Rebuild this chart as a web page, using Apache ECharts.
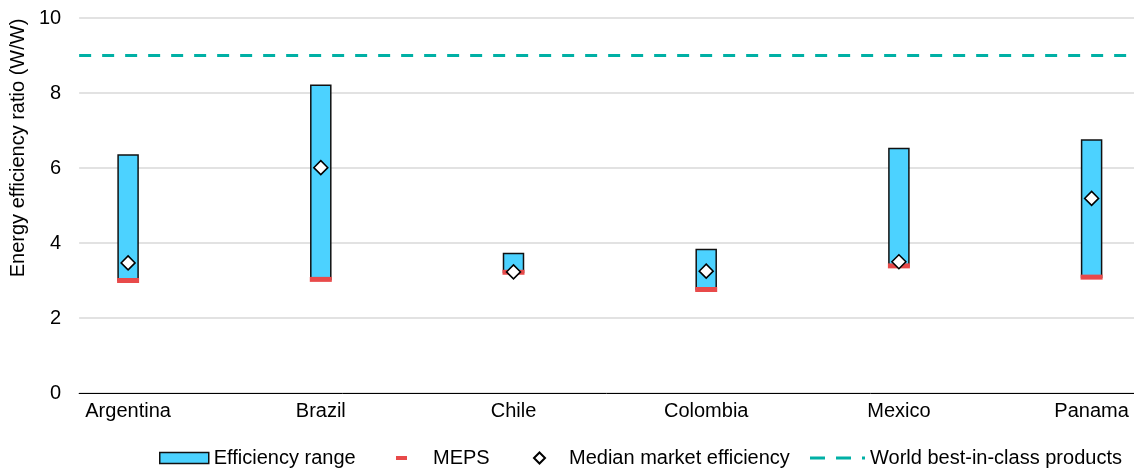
<!DOCTYPE html>
<html><head><meta charset="utf-8">
<script src="https://cdn.jsdelivr.net/npm/echarts@6/dist/echarts.min.js"></script>
<style>html,body{margin:0;padding:0;background:#fff}#c{width:1134px;height:469px}</style>
</head><body><div id="c"></div>
<script>
const categories = ['Argentina', 'Brazil', 'Chile', 'Colombia', 'Mexico', 'Panama'];
const mepsValues = [3.00, 3.03, 3.22, 2.76, 3.39, 3.09];
const rangeTop = [6.35, 8.21, 3.72, 3.83, 6.52, 6.75];
const medianValues = [3.47, 6.01, 3.23, 3.25, 3.50, 5.19];
const bestInClass = 9;
const yTickLabels = ['0', '2', '4', '6', '8', '10'];

const FONT = "'Liberation Sans', Arial, sans-serif";
const CYAN = '#4CD2FF';
const RED = '#E84A4A';
const TEAL = '#00B0A5';
const txt = { fontFamily: FONT, fontSize: 20, color: '#000' };

const idx = categories.map((c, i) => i);
const rangeData = idx.map(i => [i, mepsValues[i], rangeTop[i]]);
const mepsData = idx.map(i => [i, mepsValues[i]]);
const medianData = idx.map(i => [i, medianValues[i]]);

const chart = echarts.init(document.getElementById('c'), null, { renderer: 'canvas' });
chart.setOption({
  animation: false,
  backgroundColor: '#fff',
  grid: { left: 78, right: 0, top: 18, bottom: 76, containLabel: false },
  xAxis: {
    type: 'value', min: -0.254, max: 5.22,
    splitLine: { show: false },
    axisLine: { show: true, onZero: false, lineStyle: { color: '#000', width: 1 } },
    axisTick: { show: false },
    axisLabel: Object.assign({}, txt, {
      customValues: idx, margin: 8,
      formatter: v => categories[Math.round(v)] || ''
    })
  },
  yAxis: {
    type: 'value', min: 0, max: 10, interval: 2,
    name: 'Energy efficiency ratio (W/W)',
    nameLocation: 'middle', nameGap: 48,
    nameTextStyle: Object.assign({}, txt, { padding: [0, 0, 0, 115] }),
    axisLine: { show: false },
    axisTick: { show: false },
    axisLabel: Object.assign({}, txt, { margin: 18, formatter: v => yTickLabels[Math.round(v / 2)] }),
    splitLine: { lineStyle: { color: '#D9D9D9', width: 1.5 } }
  },
  legend: [
    { data: [{ name: 'Efficiency range', icon: 'rect' }], left: 159, top: 448, padding: 0,
      itemWidth: 49, itemHeight: 11, itemStyle: { borderColor: '#111', borderWidth: 1.5 },
      textStyle: Object.assign({}, txt) },
    { data: [{ name: 'MEPS', icon: 'rect' }], left: 396, top: 448, padding: 0,
      itemWidth: 11, itemHeight: 4, textStyle: Object.assign({}, txt, { padding: [0, 0, 0, 21] }) },
    { data: [{ name: 'Median market efficiency', icon: 'diamond' }], left: 533, top: 448, padding: 0,
      itemWidth: 11, itemHeight: 11, textStyle: Object.assign({}, txt, { padding: [0, 0, 0, 19] }) },
    { data: [{ name: 'World best-in-class products', icon: 'path://M0 0h15v3h-15z M26 0h15v3h-15z M52 0h3v3h-3z' }],
      left: 810, top: 448, padding: 0,
      itemWidth: 55, itemHeight: 3, textStyle: Object.assign({}, txt) }
  ],
  series: [
    { name: 'Efficiency range', type: 'custom', data: rangeData, z: 2,
      encode: { x: 0, y: [1, 2] },
      itemStyle: { color: CYAN, borderColor: '#111', borderWidth: 1.5 },
      renderItem: function (params, api) {
        const lo = api.coord([api.value(0), api.value(1)]);
        const hi = api.coord([api.value(0), api.value(2)]);
        const w = 20;
        return {
          type: 'rect',
          shape: { x: lo[0] - w / 2, y: hi[1], width: w, height: lo[1] - hi[1] },
          style: { fill: CYAN, stroke: '#111', lineWidth: 1.5 }
        };
      }
    },
    { name: 'MEPS', type: 'scatter', data: mepsData, symbol: 'rect', symbolSize: [22, 5], z: 3,
      itemStyle: { color: RED, opacity: 1 } },
    { name: 'Median market efficiency', type: 'scatter', data: medianData, symbol: 'diamond', symbolSize: 14, z: 4,
      itemStyle: { color: '#fff', borderColor: '#000', borderWidth: 1.5, opacity: 1 } },
    { name: 'World best-in-class products', type: 'line', data: [], color: TEAL,
      itemStyle: { color: TEAL, borderWidth: 0 },
      lineStyle: { color: TEAL, width: 3, type: [12, 11] },
      markLine: { silent: true, symbol: 'none', label: { show: false },
        lineStyle: { color: TEAL, width: 3, type: [12, 11] },
        data: [{ yAxis: bestInClass }] } }
  ]
});
</script></body></html>
